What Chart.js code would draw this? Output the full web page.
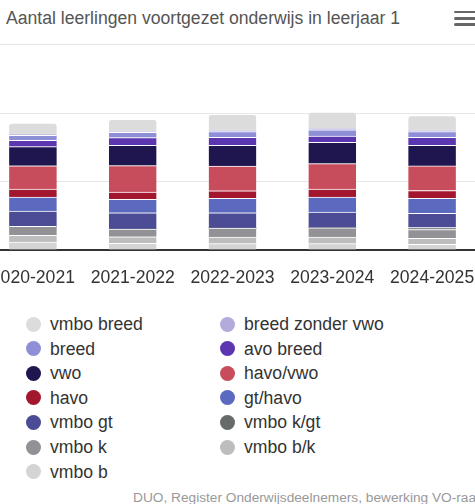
<!DOCTYPE html>
<html>
<head>
<meta charset="utf-8">
<script src="https://cdn.jsdelivr.net/npm/chart.js@4.4.1/dist/chart.umd.min.js"></script>
<style>
  html, body { margin: 0; padding: 0; background: #fff; }
  body { width: 475px; height: 504px; overflow: hidden; position: relative; font-family: 'Liberation Sans', Arial, sans-serif; }
  #title { position: absolute; left: 6px; top: 7px; font-size: 17.6px; line-height: 22px; color: #555; white-space: nowrap; }
  #menu { position: absolute; left: 454px; top: 10.5px; width: 26px; }
  #menu div { height: 2.8px; background: #666; border-radius: 2px; margin-bottom: 3.6px; }
  #sep { position: absolute; left: 0; top: 44px; width: 475px; height: 1px; background: #e6e6e6; }
  #wrap { position: absolute; left: -17px; top: 100px; width: 499px; height: 200px; }
  .lg { position: absolute; height: 22px; line-height: 22px; font-size: 17.6px; color: #333; white-space: nowrap; }
  .lg span { position: absolute; width: 15px; height: 15px; border-radius: 50%; left: 0; top: 3.5px; }
  .lg b { font-weight: normal; position: absolute; left: 24.5px; top: 0; }
  #credits { position: absolute; left: 133px; top: 489px; font-size: 13.7px; line-height: 18px; color: #999; white-space: nowrap; }
</style>
</head>
<body>
<div id="title">Aantal leerlingen voortgezet onderwijs in leerjaar 1</div>
<div id="menu"><div></div><div></div><div></div></div>
<div id="sep"></div>
<div id="wrap"><canvas id="chart"></canvas></div>
<div id="legend"></div>
<div id="credits">DUO, Register Onderwijsdeelnemers, bewerking VO-raad</div>
<script>
// schooljaren
const years = ['2020-2021', '2021-2022', '2022-2023', '2023-2024', '2024-2025'];

// series, in legend order (first one sits on top of the stack)
const seriesNames = ['vmbo breed', 'breed zonder vwo', 'breed', 'avo breed', 'vwo', 'havo/vwo',
  'havo', 'gt/havo', 'vmbo gt', 'vmbo k/gt', 'vmbo k', 'vmbo b/k', 'vmbo b'];

const vmboBreed      = [16000, 17500, 22900, 23400, 21400];
const breedZonderVwo = [2000, 1500, 2400, 2500, 2000];
const breed          = [7300, 7800, 8300, 9200, 8300];
const avoBreed       = [9200, 11200, 11700, 9200, 11700];
const vwo            = [28000, 29700, 30200, 31200, 30200];
const havoVwo        = [34000, 38500, 36000, 37000, 36000];
const havo           = [11700, 10700, 11200, 11700, 11200];
const gtHavo         = [20400, 19500, 20900, 21900, 21900];
const vmboGt         = [22400, 23800, 22400, 22900, 20900];
const vmboKGt        = [0, 0, 0, 0, 2900];
const vmboK          = [13000, 11200, 13100, 13600, 12700];
const vmboBK         = [9700, 9700, 9700, 9700, 8800];
const vmboB          = [11700, 9700, 9200, 9200, 8300];

const seriesData = [vmboBreed, breedZonderVwo, breed, avoBreed, vwo, havoVwo,
  havo, gtHavo, vmboGt, vmboKGt, vmboK, vmboBK, vmboB];

const colors = ['#dcdcdc', '#b2abdc', '#8f8fd8', '#5b36b0', '#20164f', '#c84d5c',
  '#a3172e', '#5b6abf', '#4b4b96', '#666a68', '#919196', '#bdbdbd', '#d4d4d4'];

const yTicks = [0, 100000, 200000];

Chart.defaults.font.family = "'Liberation Sans', Arial, sans-serif";

// chart.js stacks dataset 0 at the bottom, so build them reversed
const datasets = seriesNames.map((name, i) => ({
  label: name,
  data: seriesData[i],
  backgroundColor: colors[i],
  borderColor: '#ffffff',
  borderWidth: { top: 1, left: 0, right: 0, bottom: 0 },
  borderSkipped: false,
  borderRadius: i === 0 ? { topLeft: 4, topRight: 4, bottomLeft: 0, bottomRight: 0 } : 0,
  barThickness: 47.5,
  clip: false
})).reverse();

const chart = new Chart(document.getElementById('chart'), {
  type: 'bar',
  data: { labels: years, datasets: datasets },
  options: {
    responsive: true,
    maintainAspectRatio: false,
    animation: false,
    layout: { padding: { top: 13, left: 0, right: 0, bottom: 0 } },
    plugins: {
      legend: { display: false },
      tooltip: { enabled: false }
    },
    scales: {
      x: {
        stacked: true,
        grid: { display: false, drawTicks: false },
        border: { display: true, color: '#333', width: 2 },
        ticks: {
          color: '#333',
          padding: 18,
          maxRotation: 0,
          autoSkip: false,
          font: { size: 17.6 }
        },
        // labels may run off the edges, like the scrolled original
        afterFit: s => { s.height = 50; s.paddingLeft = 0; s.paddingRight = 0; }
      },
      y: {
        stacked: true,
        min: 0,
        max: yTicks[yTicks.length - 1],
        afterBuildTicks: s => { s.ticks = yTicks.map(v => ({ value: v })); },
        grid: { color: '#e6e6e6', lineWidth: 1, drawTicks: false },
        border: { display: false },
        ticks: { display: false },
        afterFit: s => { s.width = 0; s.paddingTop = 0; s.paddingBottom = 0; }
      }
    }
  }
});

// legend in two columns, same order as the series list
const legend = document.getElementById('legend');
seriesNames.forEach((name, i) => {
  const col = i % 2, row = Math.floor(i / 2);
  const el = document.createElement('div');
  el.className = 'lg';
  el.style.left = (col === 0 ? 25.5 : 219.5) + 'px';
  el.style.top = (313 + row * 24.6) + 'px';
  el.innerHTML = '<span style="background:' + colors[i] + '"></span><b>' + name + '</b>';
  legend.appendChild(el);
});
</script>
</body>
</html>
